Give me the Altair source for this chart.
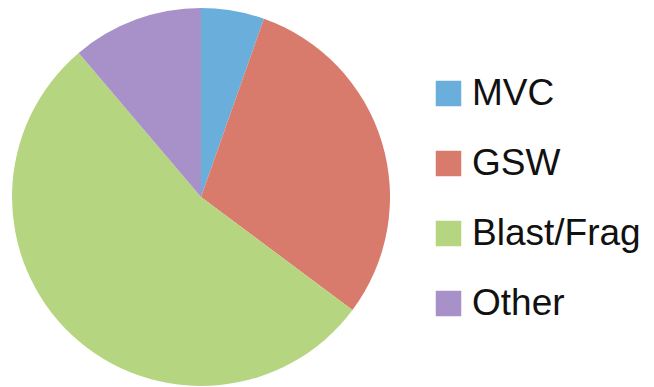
import altair as alt
import pandas as pd

categories = ["MVC", "GSW", "Blast/Frag", "Other"]
values = [5.4, 29.8, 53.6, 11.2]
colors = ["#6aaedc", "#d97b6c", "#b6d581", "#a891c9"]

df = pd.DataFrame({"cat": categories, "val": values, "ord": list(range(len(categories)))})

chart = alt.Chart(df).mark_arc(radius=189).encode(
    theta=alt.Theta("val:Q", stack=True),
    order=alt.Order("ord:Q"),
    color=alt.Color(
        "cat:N",
        scale=alt.Scale(domain=categories, range=colors),
        legend=alt.Legend(
            title=None,
            orient="none",
            legendX=422,
            legendY=64,
            symbolType="square",
            symbolSize=650,
            symbolStrokeWidth=0,
            labelFontSize=37,
            labelFont="Liberation Sans",
            labelColor="#111111",
            labelOffset=5,
            labelLimit=400,
            rowPadding=32,
            padding=0,
        ),
    ),
).properties(width=386, height=372, padding=0).configure_view(stroke=None)

chart.save("out.html", embed_options={"renderer": "svg", "actions": False})
